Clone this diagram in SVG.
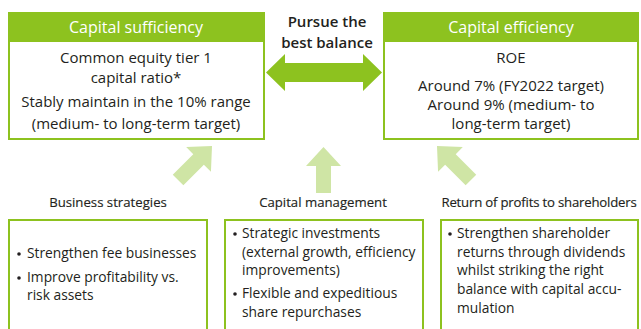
<svg xmlns="http://www.w3.org/2000/svg" width="641" height="329" viewBox="0 0 641 329">
  <style>
    .box { fill: #ffffff; stroke: #8dc21f; stroke-width: 2; }
    .head { fill: #8dc21f; }
    .htxt { font-family: "Open Sans", Lato, sans-serif; font-size: 16px; fill: #ffffff; text-anchor: middle; }
    .body { font-family: "Open Sans", Lato, sans-serif; font-size: 15px; fill: #231f20; text-anchor: middle; }
    .lbl { font-family: "Open Sans", Lato, sans-serif; font-size: 13.2px; fill: #231f20; stroke: #231f20; stroke-width: 0.15; text-anchor: middle; }
    .cap { font-family: "Open Sans", Lato, sans-serif; font-size: 15px; font-weight: 600; fill: #231f20; text-anchor: middle; }
    .item { font-family: "Open Sans", Lato, sans-serif; font-size: 13.8px; fill: #231f20; }
    .dot { fill: #231f20; }
    .soft { fill: #cfe5a5; }
    .strong { fill: #8dc21f; }
  </style>

  <!-- top-left: capital sufficiency -->
  <g id="capital-sufficiency">
    <rect class="box" x="9" y="13" width="255" height="126"/>
    <rect class="head" x="8" y="12" width="257" height="30"/>
    <text class="htxt" x="136" y="33">Capital sufficiency</text>
    <text class="body" x="136" y="63">Common equity tier 1</text>
    <text class="body" x="136" y="83">capital ratio*</text>
    <text class="body" x="136" y="107">Stably maintain in the 10% range</text>
    <text class="body" x="136" y="129">(medium- to long-term target)</text>
  </g>

  <!-- top-right: capital efficiency -->
  <g id="capital-efficiency">
    <rect class="box" x="384" y="13" width="254" height="126"/>
    <rect class="head" x="383" y="12" width="256" height="30"/>
    <text class="htxt" x="511" y="33">Capital efficiency</text>
    <text class="body" x="511" y="63">ROE</text>
    <text class="body" x="511" y="91">Around 7% (FY2022 target)</text>
    <text class="body" x="511" y="110">Around 9% (medium- to</text>
    <text class="body" x="511" y="128.5">long-term target)</text>
  </g>

  <!-- balance caption -->
  <g id="balance">
    <text class="cap" x="327" y="27">Pursue the</text>
    <text class="cap" x="327" y="48">best balance</text>
  </g>

  <!-- bottom boxes -->
  <g id="business-strategies">
    <text class="lbl" x="108" y="207">Business strategies</text>
    <rect class="box" x="9" y="220" width="198" height="120"/>
    <circle class="dot" cx="19" cy="254" r="1.8"/>
    <text class="item" x="27" y="258">Strengthen fee businesses</text>
    <circle class="dot" cx="19" cy="278" r="1.8"/>
    <text class="item" x="27" y="282">Improve profitability vs.</text>
    <text class="item" x="27" y="300">risk assets</text>
  </g>

  <g id="capital-management">
    <text class="lbl" x="323" y="207">Capital management</text>
    <rect class="box" x="225" y="220" width="198" height="120"/>
    <circle class="dot" cx="235" cy="234" r="1.8"/>
    <text class="item" x="242" y="238">Strategic investments</text>
    <text class="item" x="242" y="257">(external growth, efficiency</text>
    <text class="item" x="242" y="275">improvements)</text>
    <circle class="dot" cx="235" cy="294" r="1.8"/>
    <text class="item" x="242" y="298">Flexible and expeditious</text>
    <text class="item" x="242" y="317">share repurchases</text>
  </g>

  <g id="return-of-profits">
    <text class="lbl" x="539" y="207" style="letter-spacing:-0.2px">Return of profits to shareholders</text>
    <rect class="box" x="441" y="220" width="197" height="120"/>
    <circle class="dot" cx="450" cy="234" r="1.8"/>
    <text class="item" x="457" y="238">Strengthen shareholder</text>
    <text class="item" x="457" y="257">returns through dividends</text>
    <text class="item" x="457" y="275">whilst striking the right</text>
    <text class="item" x="457" y="294">balance with capital accu-</text>
    <text class="item" x="457" y="313">mulation</text>
  </g>

  <!-- connectors: block arrows -->
  <g id="connectors">
    <!-- two-way arrow between the top boxes -->
    <polygon class="strong" points="266,72.5 285,54 285,63 363,63 363,54 382,72.5 363,91 363,82 285,82 285,91"/>
    <!-- upward arrow, centre -->
    <polygon class="soft" points="323.5,147 341,166 331,166 331,193 316,193 316,166 306,166"/>
    <!-- diagonal arrow, lower left to upper right -->
    <polygon class="soft" points="0,0 17.5,19 7.5,19 7.5,48 -7.5,48 -7.5,19 -17.5,19" transform="translate(212,146) rotate(45)"/>
    <!-- diagonal arrow, lower right to upper left -->
    <polygon class="soft" points="0,0 17.5,19 7.5,19 7.5,48 -7.5,48 -7.5,19 -17.5,19" transform="translate(437,146) rotate(-45)"/>
  </g>
</svg>
